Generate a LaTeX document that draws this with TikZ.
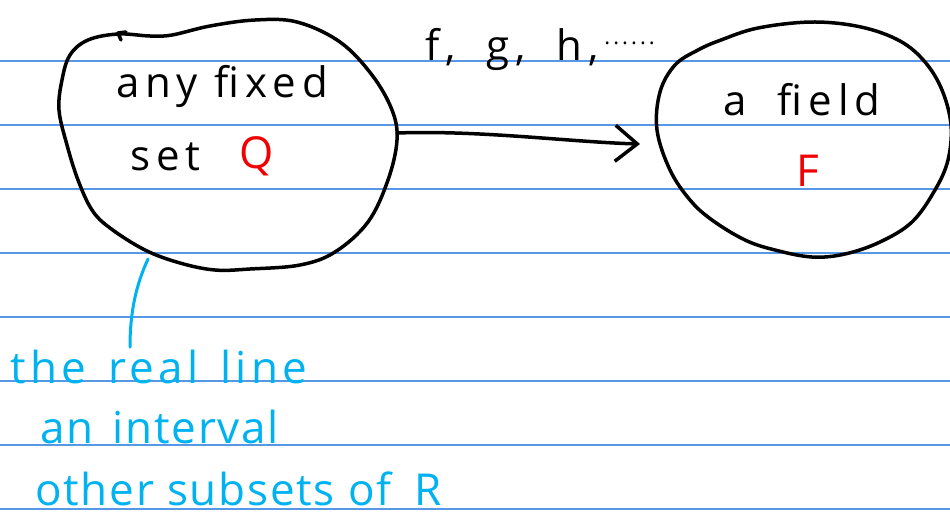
\documentclass[tikz,border=0pt]{standalone}
\usepackage{fontspec}
\setmainfont{Open Sans}
\usetikzlibrary{arrows.meta}
\definecolor{ruleblue}{RGB}{86,152,230}
\definecolor{inkcyan}{RGB}{0,178,240}
\definecolor{inkred}{RGB}{240,0,0}
\begin{document}
\begin{tikzpicture}[x=1pt,y=-1pt,
  ruleline/.style={ruleblue,line width=2pt},
  ink/.style={black,line width=3.5pt,line cap=round,line join=round},
  cyanink/.style={inkcyan,line width=3pt,line cap=round},
  blacktext/.style={black,font=\fontsize{42}{46}\selectfont\addfontfeatures{LetterSpace=14},inner sep=0pt},
  redtext/.style={inkred,font=\fontsize{44}{48}\selectfont,inner sep=0pt},
  cyantext/.style={inkcyan,font=\fontsize{44}{48}\selectfont\addfontfeatures{LetterSpace=4},inner sep=0pt,anchor=base west}]
  \useasboundingbox (0,0) rectangle (950,515);
  \fill[white] (0,0) rectangle (950,515);
  % ruled paper
  \foreach \ly in {61,125,...,509}
    \draw[ruleline] (0,\ly) -- (950,\ly);
  \begin{scope}
  \clip (0,0) rectangle (950,515);
  % the two blobs
  \draw[ink] plot[smooth cycle,tension=0.6] coordinates {(118,34) (150,36) (172,35) (210,26) (255,20) (297,22) (340,42) (372,75) (392,110) (397,140) (388,180) (368,222) (335,252) (300,265) (250,269) (215,270) (180,263) (145,250) (110,228) (92,210) (78,180) (67,145) (59,110) (62,80) (70,55) (88,40)};
  \draw[ink] (121,40) -- (118,33) -- (126,32);
  \draw[ink] plot[smooth cycle,tension=0.6] coordinates {(721,40) (758,28) (812,22) (861,27) (900,41) (925,62) (942,90) (951,125) (948,160) (935,190) (912,222) (880,242) (845,254) (812,257) (775,250) (745,240) (712,220) (690,200) (670,170) (657,130) (660,92) (675,65) (698,50)};
  \end{scope}
  % labels in the blobs
  \node[blacktext,anchor=base] (anyfixed) at (222,97) {any fixed};
  \node[blacktext,anchor=base west] (settext) at (130,170) {set};
  \node[redtext,anchor=base] (setQ) at (257,168) {Q};
  \node[blacktext,anchor=base] (afield) at (802,115) {a\hspace{14pt} field};
  \node[redtext,anchor=base] (fieldF) at (808,186) {F};
  \node[blacktext,anchor=base west] (maps) at (425,60) {f,\hspace{14pt} g,\hspace{14pt} h,\hspace{6pt}\raisebox{16pt}{\fontsize{22}{22}\selectfont ......}};
  % the arrow
  \coordinate (arrS) at (397,133);
  \coordinate (arrE) at (640,144);
  \draw[ink,-{Straight Barb[length=22pt,width=36pt,line width=3.5pt]}] (arrS) .. controls (480,130) and (570,142) .. (arrE);
  % notes below
  \coordinate (leadS) at (148,259);
  \coordinate (leadE) at (130,347);
  \draw[cyanink] (leadS) .. controls (136,285) and (130,312) .. (leadE);
  \node[cyantext,font=\fontsize{44}{48}\selectfont\addfontfeatures{LetterSpace=10}] (realline) at (10,383) {the\hspace{6pt} real\hspace{6pt} line};
  \node[cyantext] (interval) at (40,443) {an\hspace{6pt} interval};
  \node[cyantext] (subsets) at (35,505) {other subsets of\hspace{10pt} R};
\end{tikzpicture}
\end{document}
